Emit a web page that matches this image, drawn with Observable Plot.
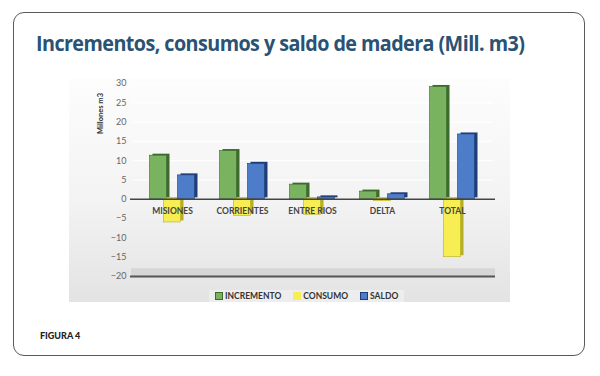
<!DOCTYPE html>
<html>
<head>
<meta charset="utf-8">
<script src="https://cdn.jsdelivr.net/npm/d3@7"></script>
<script src="https://cdn.jsdelivr.net/npm/@observablehq/plot@0.6"></script>
<style>
  html, body { margin: 0; padding: 0; background: #fff; width: 600px; height: 376px; overflow: hidden; }
  #card { position: absolute; left: 13px; top: 12px; width: 570px; height: 342px; border: 1.5px solid #5a5a5a; border-radius: 11px; }
  #title { position: absolute; left: 36px; top: 29px; font-family: "Open Sans", sans-serif; font-weight: 700; font-size: 21px; color: #2a5273; letter-spacing: -0.6px; white-space: nowrap; transform: scaleX(0.94); transform-origin: left top; }
  #panel { position: absolute; left: 69px; top: 78px; width: 441px; height: 224px; background: linear-gradient(to bottom, #fdfdfd 0%, #f3f3f3 55%, #e3e3e3 100%); }
  #chart { position: absolute; left: 0; top: 0; }
  #legend { position: absolute; left: 140px; top: 212px; height: 12px; padding: 0 6px; display: flex; gap: 12px; align-items: center; font-family: "Lato", sans-serif; font-size: 8.5px; font-weight: 700; color: #333; background: rgba(255,255,255,0.35); }
  #legend span.sw { display: inline-block; width: 6px; height: 6px; margin-right: 2px; vertical-align: -0.5px; }
  #fig { position: absolute; left: 40px; top: 330px; font-family: "Lato", sans-serif; font-weight: 900; font-size: 9px; color: #222; }
</style>
</head>
<body>
<div id="card"></div>
<div id="title">Incrementos, consumos y saldo de madera (Mill. m3)</div>
<div id="panel">
  <div id="chart"></div>
  <div id="legend"></div>
</div>
<div id="fig">FIGURA 4</div>
<script>
const categories = ["MISIONES", "CORRIENTES", "ENTRE RIOS", "DELTA", "TOTAL"];
const incremento = [11.3, 12.5, 3.8, 2.0, 29.1];
const consumo = [-6.0, -4.3, -4.0, -0.5, -15.0];
const saldo = [6.2, 9.2, 0.5, 1.3, 16.8];
const seriesNames = ["INCREMENTO", "CONSUMO", "SALDO"];
const yTicks = [30, 25, 20, 15, 10, 5, 0, -5, -10, -15, -20];

const colors = { INCREMENTO: "#79b360", CONSUMO: "#f6ee52", SALDO: "#4d7cc9" };
const dark = { INCREMENTO: "#3d6b2c", CONSUMO: "#b6ae24", SALDO: "#1f3e78" };
const offsets = { INCREMENTO: -14, CONSUMO: 0, SALDO: 14 };

const rows = [];
categories.forEach((c, i) => {
  rows.push({ cat: c, serie: "INCREMENTO", value: incremento[i] });
  rows.push({ cat: c, serie: "CONSUMO", value: consumo[i] });
  rows.push({ cat: c, serie: "SALDO", value: saldo[i] });
});

const inset = 26.5;
const barMarks = [];
for (const s of seriesNames) {
  const d = rows.filter(r => r.serie === s);
  // 3D side face
  barMarks.push(Plot.barY(d, { x: "cat", y: "value", fill: dark[s], dx: offsets[s] + 3, dy: -1.5, insetLeft: inset, insetRight: inset }));
  barMarks.push(Plot.barY(d, { x: "cat", y: "value", fill: colors[s], stroke: dark[s], strokeWidth: 0.6, dx: offsets[s], insetLeft: inset, insetRight: inset }));
}

const chart = Plot.plot({
  width: 441,
  height: 212,
  marginLeft: 68,
  marginRight: 23,
  marginTop: 5,
  marginBottom: 14,
  style: { background: "transparent", fontFamily: "Lato, sans-serif" },
  x: { domain: categories, axis: null, padding: 0 },
  y: { domain: [-20, 30], ticks: yTicks, tickFormat: d => d, label: null },
  marks: [
    Plot.ruleY(yTicks.filter(t => t > 0), { stroke: "#ffffff", strokeWidth: 1.2, insetLeft: -4, insetRight: -6 }),
    Plot.rectY([0], { y1: -20, y2: -18, fill: "#d6d6d6", insetLeft: -6, insetRight: -8 }),
    Plot.ruleY([-20], { stroke: "#555", strokeWidth: 1.8, insetLeft: -7, insetRight: -8 }),
    Plot.axisY({ ticks: yTicks, tickSize: 0, tickPadding: 11, fontSize: 9, fill: "#666", label: null }),
    Plot.text(["Millones m3"], { frameAnchor: "top-left", dx: -40, dy: 30, rotate: -90, fontSize: 7.5, fontWeight: "bold", fill: "#333", textAnchor: "middle" }),
    ...barMarks,
    Plot.ruleY([0], { stroke: "#444", strokeWidth: 1.5, insetLeft: -7, insetRight: -8 }),
    Plot.text(categories, { x: d => d, y: 0, dy: 12, fontSize: 8.5, fontWeight: "bold", fill: "#444" })
  ]
});
document.getElementById("chart").appendChild(chart);

const legend = document.getElementById("legend");
for (const s of seriesNames) {
  const item = document.createElement("div");
  item.innerHTML = `<span class="sw" style="background:${colors[s]};border:0.5px solid ${s === "CONSUMO" ? "transparent" : dark[s]}"></span>${s}`;
  legend.appendChild(item);
}
</script>
</body>
</html>
